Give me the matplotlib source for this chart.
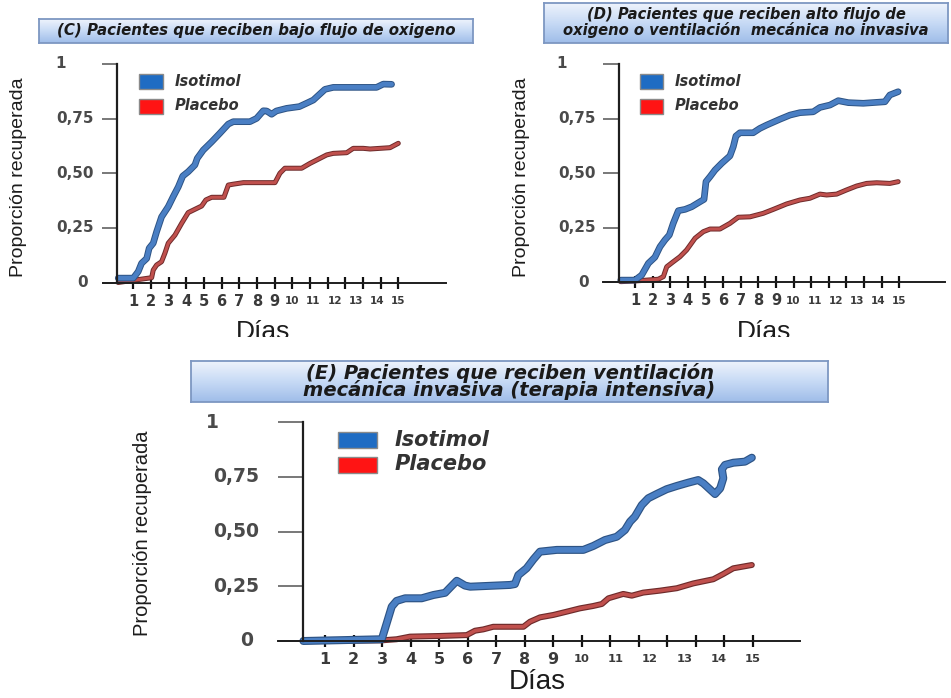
import numpy as np
import matplotlib
matplotlib.use('Agg')
import matplotlib.pyplot as plt
import matplotlib.patheffects as pe
from matplotlib.colors import LinearSegmentedColormap
from matplotlib.patches import Rectangle
from matplotlib.transforms import Bbox, TransformedBbox, offset_copy

# x values are positions on the drawn axis: tick k sits at k (16 ticks, label "15" on the last one)
dia_labels = [str(d) for d in range(1, 16)]
dia_pos = [1, 2, 3, 4, 5, 6, 7, 8, 9, 10, 11.2, 12.4, 13.6, 14.8, 16]
tick_pos = list(range(1, 17))
y_ticks = [0, 0.25, 0.5, 0.75, 1]
y_labels = ['0', '0,25', '0,50', '0,75', '1']
series_names = ['Isotimol', 'Placebo']

# (C) bajo flujo de oxigeno
c_iso_x = [0.15, 1.0, 1.28, 1.47, 1.76, 1.9, 2.13, 2.32, 2.6, 2.98, 3.26, 3.55, 3.8, 4.11, 4.49, 4.62,
           4.96, 5.44, 5.9, 6.38, 6.66, 7.6, 7.98, 8.36, 8.55, 8.83, 9.1, 9.68, 10.4, 10.8, 11.19,
           11.85, 12.32, 14.77, 15.15, 15.62]
c_iso_y = [0.02, 0.02, 0.05, 0.088, 0.11, 0.157, 0.18, 0.232, 0.30, 0.347, 0.393, 0.438, 0.487, 0.507,
           0.538, 0.568, 0.606, 0.644, 0.683, 0.725, 0.736, 0.736, 0.751, 0.786, 0.785, 0.77, 0.785,
           0.797, 0.805, 0.82, 0.835, 0.884, 0.893, 0.893, 0.908, 0.907]
c_pla_x = [0.15, 1.0, 2.04, 2.13, 2.32, 2.6, 2.79, 2.98, 3.36, 3.74, 4.11, 4.49, 4.87, 5.11, 5.44, 6.13,
           6.38, 6.66, 7.23, 9.02, 9.3, 9.58, 10.53, 11.0, 11.95, 12.32, 13.08, 13.45, 14.02, 14.4,
           15.53, 16.0]
c_pla_y = [0.0, 0.01, 0.022, 0.057, 0.08, 0.095, 0.134, 0.18, 0.217, 0.271, 0.32, 0.335, 0.35, 0.378,
           0.39, 0.39, 0.446, 0.45, 0.457, 0.457, 0.5, 0.523, 0.523, 0.545, 0.584, 0.591, 0.594,
           0.614, 0.614, 0.611, 0.617, 0.637]

# (D) alto flujo / ventilacion no invasiva
d_iso_x = [0.19, 1.0, 1.38, 1.76, 2.13, 2.42, 2.7, 2.95, 3.17, 3.46, 3.84, 4.22, 4.69, 4.92, 5.03, 5.26,
           5.54, 5.92, 6.39, 6.58, 6.73, 6.96, 7.71, 8.09, 8.47, 9.23, 9.8, 10.36, 11.12, 11.5, 12.07,
           12.54, 13.11, 13.96, 15.19, 15.47, 15.94]
d_iso_y = [0.01, 0.01, 0.033, 0.087, 0.115, 0.163, 0.194, 0.217, 0.27, 0.328, 0.334, 0.346, 0.369, 0.38,
           0.461, 0.484, 0.514, 0.545, 0.579, 0.621, 0.67, 0.685, 0.685, 0.705, 0.72, 0.747, 0.766,
           0.777, 0.781, 0.801, 0.812, 0.832, 0.823, 0.82, 0.827, 0.858, 0.873]
d_pla_x = [0.19, 1.0, 2.32, 2.61, 2.8, 3.17, 3.55, 3.93, 4.41, 4.88, 5.26, 5.82, 6.39, 6.86, 7.53, 8.28,
           8.85, 9.61, 10.36, 10.93, 11.5, 11.88, 12.45, 13.01, 13.58, 14.15, 14.72, 15.47, 15.94]
d_pla_y = [0.003, 0.006, 0.014, 0.026, 0.071, 0.094, 0.117, 0.148, 0.202, 0.232, 0.244, 0.244, 0.27,
           0.298, 0.3, 0.316, 0.334, 0.359, 0.377, 0.385, 0.404, 0.4, 0.404, 0.423, 0.441, 0.453,
           0.456, 0.453, 0.461]

# (E) ventilacion mecanica invasiva
e_iso_x = [0.24, 2.99, 3.16, 3.34, 3.51, 3.81, 4.39, 4.8, 5.21, 5.38, 5.62, 5.91, 6.09, 7.49, 7.66, 7.78,
           8.07, 8.31, 8.54, 9.13, 10.06, 10.41, 10.82, 11.23, 11.52, 11.7, 11.87, 12.11, 12.34, 12.63,
           12.98, 13.34, 13.74, 14.09, 14.27, 14.68, 14.86, 14.97, 14.92, 15.03, 15.32, 15.73, 15.97]
e_iso_y = [0.0, 0.008, 0.08, 0.157, 0.183, 0.195, 0.195, 0.21, 0.22, 0.243, 0.275, 0.253, 0.248, 0.256,
           0.26, 0.301, 0.332, 0.373, 0.408, 0.416, 0.416, 0.434, 0.461, 0.476, 0.507, 0.545, 0.568,
           0.621, 0.652, 0.671, 0.693, 0.708, 0.723, 0.735, 0.72, 0.671, 0.697, 0.743, 0.784, 0.804,
           0.814, 0.819, 0.837]
e_pla_x = [0.24, 2.99, 3.51, 3.98, 5.03, 5.97, 6.26, 6.55, 6.9, 7.96, 8.19, 8.54, 9.01, 9.48, 9.94,
           10.41, 10.71, 10.94, 11.46, 11.76, 12.16, 12.75, 13.34, 13.92, 14.62, 14.97, 15.32, 15.97]
e_pla_y = [0.0, 0.003, 0.008, 0.02, 0.023, 0.027, 0.047, 0.053, 0.065, 0.065, 0.088, 0.108, 0.119, 0.134,
           0.149, 0.16, 0.169, 0.195, 0.215, 0.207, 0.221, 0.23, 0.241, 0.263, 0.282, 0.306, 0.332,
           0.347]

W, H = 951, 698
fig = plt.figure(figsize=(W / 100, H / 100), dpi=100)
fig.patch.set_facecolor('white')

sans = ['Liberation Sans', 'DejaVu Sans']
box_cmap = LinearSegmentedColormap.from_list('box', ['#eef3fc', '#c7daf5', '#9fbde9'])
blue, blue_edge = '#4a7fc4', '#2d5384'
red, red_edge = '#c0504d', '#6e2b2b'


def fig_rect(x0, x1, y0, y1):
    # pixel box (top-left origin) -> figure fraction rect
    return [x0 / W, 1 - y1 / H, (x1 - x0) / W, (y1 - y0) / H]


def title_box(x0, x1, y0, y1, text, size, spacing):
    bax = fig.add_axes(fig_rect(x0, x1, y0, y1))
    bax.imshow(np.linspace(0, 1, 60).reshape(-1, 1), aspect='auto', cmap=box_cmap,
               extent=[0, 1, 0, 1], origin='upper')
    bax.set_xticks([])
    bax.set_yticks([])
    for s in bax.spines.values():
        s.set_color('#7d97c2')
        s.set_linewidth(1.3)
    bax.text(0.5, 0.5, text, ha='center', va='center', fontsize=size, fontweight='bold',
             fontstyle='italic', color='#1a1a1a', linespacing=spacing, transform=bax.transAxes)


def panel(x0, x1, y_top, y_bot, xlim, yaxis_x, iso, pla, big):
    ax = fig.add_axes(fig_rect(x0, x1, y_top, y_bot))
    ax.set_xlim(*xlim)
    ax.set_ylim(0, 1)
    ax.patch.set_alpha(0)
    for s in ['top', 'right']:
        ax.spines[s].set_visible(False)
    ax.spines['left'].set_position(('data', yaxis_x))
    ax.spines['left'].set_color('#1e1e1e')
    ax.spines['left'].set_linewidth(1.6)
    ax.spines['bottom'].set_color('#1e1e1e')
    ax.spines['bottom'].set_linewidth(1.4)

    ax.set_xticks(tick_pos)
    ax.set_xticklabels([])
    ax.tick_params(axis='x', direction='inout', length=9, width=1.6, color='#111')
    ax.set_yticks(y_ticks)
    ax.set_yticklabels([])
    ylen = (yaxis_x - xlim[0]) * (x1 - x0) / (xlim[1] - xlim[0]) * 0.72
    ax.tick_params(axis='y', direction='out', length=ylen, width=1.3, color='#6d6d6d')

    # tick labels
    k = 1.6 if big else 1.0
    for i, (p, lab) in enumerate(zip(dia_pos, dia_labels)):
        tr = offset_copy(ax.transData, fig=fig, y=-18.5, units='dots')
        small = i >= 9
        fs = (7.5 if small else 10.5) * (1.1 if big else 1.0)
        ax.text(p, 0, lab, transform=tr, ha='center', va='center', fontsize=fs,
                fontweight='bold', color='#3a3a3a', clip_on=False)
    y_off = {'1': -57, '0': -35}
    for v, lab in zip(y_ticks, y_labels):
        dx = y_off.get(lab, -42) * k
        tr = offset_copy(ax.transData, fig=fig, x=dx, units='dots')
        ax.text(yaxis_x, v, lab, transform=tr, ha='center', va='center',
                fontsize=13.5 if big else 11, fontweight='bold', color='#4a4a4a', clip_on=False)

    m = 1.2 if big else 1.0
    ax.plot(pla[0], pla[1], color=red, lw=2.2 * m, clip_on=False,
            solid_joinstyle='round', solid_capstyle='round',
            path_effects=[pe.Stroke(linewidth=3.6 * m, foreground=red_edge), pe.Normal()])
    ax.plot(iso[0], iso[1], color=blue, lw=3.4 * m, clip_on=False,
            solid_joinstyle='round', solid_capstyle='round',
            path_effects=[pe.Stroke(linewidth=4.8 * m, foreground=blue_edge), pe.Normal()])
    return ax


def legend(x0, y_blue, y_red, w, h, tx, size):
    for yy, col, name in [(y_blue, '#1f6cc3', series_names[0]), (y_red, '#ff1414', series_names[1])]:
        fig.patches.append(Rectangle((x0 / W, 1 - (yy + h / 2) / H), w / W, h / H,
                                     transform=fig.transFigure, facecolor=col,
                                     edgecolor='#8a8a8a', lw=1.0))
        fig.text(tx / W, 1 - yy / H, name, ha='left', va='center', fontsize=size,
                 fontweight='bold', fontstyle='italic', color='#333333')


# panels
panel(102.7, 446, 64, 282.5, (-0.73, 18.7), 0.1, (c_iso_x, c_iso_y), (c_pla_x, c_pla_y), False)
panel(603.3, 945, 64, 282.3, (-0.8, 18.6), 0.09, (d_iso_x, d_iso_y), (d_pla_x, d_pla_y), False)
panel(278, 800, 422, 641, (-0.65, 17.66), 0.23, (e_iso_x, e_iso_y), (e_pla_x, e_pla_y), True)

title_box(39, 473, 19, 43, '(C) Pacientes que reciben bajo flujo de oxigeno', 10.8, 1.2)
title_box(544, 948, 3, 43, '(D) Pacientes que reciben alto flujo de\noxigeno o ventilación  mecánica no invasiva',
          10.6, 1.0)
title_box(191, 828, 361, 402, '(E) Pacientes que reciben ventilación\nmecánica invasiva (terapia intensiva)',
          14, 0.82)

legend(139, 81.5, 106, 24, 15, 175, 10.5)
legend(640, 81.5, 106, 23, 15, 675, 10.5)
legend(338, 440, 464.5, 39, 16, 395, 15)

# axis titles
for cx, cy, fs in [(19, 177.5, 14), (521, 177.5, 14), (143, 533, 14.5)]:
    fig.text(cx / W, 1 - cy / H, 'Proporción recuperada', rotation=90, ha='center', va='center',
             fontsize=fs, family=sans, color='#1c1c1c')

clip = TransformedBbox(Bbox.from_extents(0, 1 - 337 / H, 1, 1), fig.transFigure)
for cx in [263, 764.5]:
    t = fig.text(cx / W, 1 - 339 / H, 'Días', ha='center', va='baseline', fontsize=19,
                 family=sans, color='#1c1c1c')
    t.set_clip_box(clip)
    t.set_clip_on(True)
fig.text(537 / W, 1 - 689 / H, 'Días', ha='center', va='baseline', fontsize=20,
         family=sans, color='#1c1c1c')

fig.savefig('out.png', dpi=100)
